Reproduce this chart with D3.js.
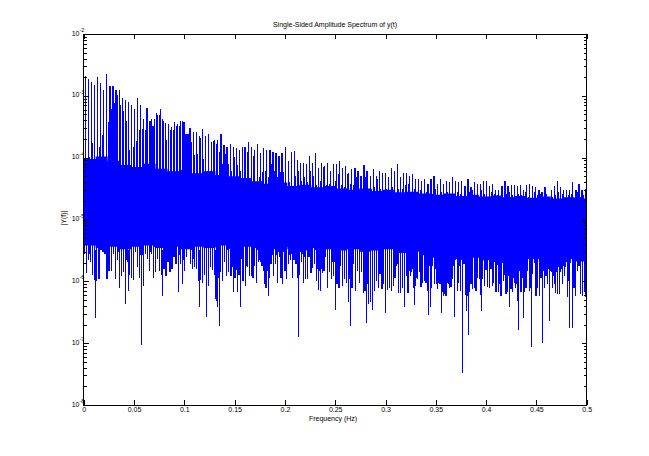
<!DOCTYPE html>
<html><head><meta charset="utf-8">
<script src="https://cdn.jsdelivr.net/npm/d3@7"></script>
<style>html,body{margin:0;background:#fff}svg{display:block}text{font-family:"Liberation Sans",Arial,sans-serif;fill:#000}</style>
</head><body><svg id="c" width="649" height="456"></svg>
<script>
const titleText="Single-Sided Amplitude Spectrum of y(t)", xLabelText="Frequency (Hz)", yLabelText="|Y(f)|";
const xTicks=[0,0.05,0.1,0.15,0.2,0.25,0.3,0.35,0.4,0.45,0.5];
const xTickLabels=["0","0.05","0.1","0.15","0.2","0.25","0.3","0.35","0.4","0.45","0.5"];
const decades=[-2,-3,-4,-5,-6,-7,-8];
// all amplitudes stored as log10(|Y|), three frequency bands
const bandEdges=[0,0.1655,0.3345,0.5];
const peaks=[
[-2.68,-2.73,-2.78,-2.83,-2.70,-2.79,-2.91,-2.65,-2.84,-2.84,-2.91,-2.91,-3.04,-3.07,-3.10,-3.15,-3.22,-3.04,-3.15,-3.38,-3.20,-3.40,-3.49,-3.28,-3.31,-3.38,-3.44,-3.46,-3.50,-3.43,-3.45,-3.41,-3.43,-3.62,-3.52,-3.59,-3.59,-3.65,-3.54,-3.65,-3.62,-3.75,-3.72,-3.72,-3.61,-3.80,-3.83,-3.78,-3.82,-3.85,-3.87,-3.82,-3.82,-3.74],
[-3.83,-3.88,-3.78,-3.93,-3.85,-3.88,-3.88,-3.91,-3.93,-3.98,-3.93,-3.82,-4.06,-3.91,-3.90,-4.04,-4.09,-4.09,-4.11,-3.98,-4.08,-3.93,-4.16,-4.09,-4.14,-4.08,-4.22,-4.11,-4.11,-4.06,-4.16,-4.14,-4.24,-4.19,-4.16,-4.21,-4.29,-4.12,-4.21,-4.29,-4.19,-4.29,-4.21,-4.24,-4.24,-4.32,-4.16,-4.22,-4.11,-4.32,-4.25,-4.24,-4.29,-4.27,-4.34,-4.34],
[-4.38,-4.34,-4.42,-4.34,-4.30,-4.42,-4.34,-4.42,-4.38,-4.40,-4.32,-4.37,-4.40,-4.38,-4.46,-4.34,-4.48,-4.40,-4.42,-4.42,-4.37,-4.38,-4.46,-4.43,-4.53,-4.53,-4.46,-4.37,-4.46,-4.45,-4.45,-4.46,-4.45,-4.53,-4.45,-4.43,-4.46,-4.48,-4.53,-4.55,-4.48,-4.64,-4.53,-4.46,-4.37,-4.48,-4.53,-4.53,-4.53,-4.40,-4.53,-4.42,-4.53,-4.50]];
const gaps=[
[-4.04,-3.99,-3.77,-4.12,-3.82,-3.64,-4.21,-3.42,-3.22,-3.11,-2.99,-3.15,-3.25,-3.41,-3.88,-3.82,-3.73,-3.56,-3.53,-3.55,-4.26,-3.38,-3.38,-3.31,-3.22,-3.40,-3.72,-3.56,-3.55,-3.49,-3.48,-3.41,-3.61,-3.61,-3.75,-3.95,-3.94,-3.69,-4.02,-4.21,-4.21,-3.73,-3.78,-3.91,-4.10,-3.94,-4.10,-4.21,-3.99,-4.12,-4.21,-3.83,-3.91,-4.37],
[-3.98,-4.42,-4.31,-4.23,-4.21,-4.31,-4.10,-4.21,-4.31,-4.23,-4.23,-4.42,-4.40,-4.54,-4.29,-4.21,-4.37,-4.31,-4.40,-4.21,-4.29,-4.45,-4.37,-4.15,-4.45,-4.42,-4.58,-4.37,-4.26,-4.45,-4.48,-4.26,-4.42,-4.45,-4.31,-4.53,-4.61,-4.31,-4.53,-4.50,-4.48,-4.34,-4.50,-4.56,-4.50,-4.61,-4.48,-4.64,-4.50,-4.50,-4.45,-4.42,-4.58,-4.50,-4.56,-4.53],
[-4.61,-4.56,-4.58,-4.58,-4.50,-4.64,-4.56,-4.58,-4.56,-4.61,-4.66,-4.56,-4.58,-4.64,-4.66,-4.56,-4.53,-4.61,-4.64,-4.53,-4.58,-4.66,-4.56,-4.58,-4.61,-4.64,-4.66,-4.58,-4.56,-4.61,-4.66,-4.58,-4.61,-4.56,-4.64,-4.66,-4.56,-4.61,-4.58,-4.66,-4.58,-4.66,-4.64,-4.61,-4.56,-4.58,-4.66,-4.61,-4.58,-4.66,-4.56,-4.64,-4.61,-4.66]];
const dips=[
[-5.56,-5.87,-5.66,-5.69,-5.90,-5.98,-5.99,-5.97,-5.50,-5.53,-5.56,-5.97,-5.83,-5.83,-5.56,-5.96,-5.66,-6.10,-5.91,-5.85,-6.00,-5.68,-5.90,-5.94,-5.98,-5.53,-5.77,-5.95,-5.58,-6.08,-5.56,-5.64,-5.83,-5.56,-5.94,-5.85,-5.64,-5.83,-5.90,-5.80,-5.92,-5.69,-5.85,-5.80,-5.61,-5.72,-5.95,-5.72,-6.05,-5.84,-5.61,-5.39,-5.72,-5.80,-5.77,-5.80,-6.00,-5.98,-6.03,-5.90,-5.56,-6.08,-5.77,-5.82,-5.90,-6.00,-5.95,-5.85,-5.99,-5.69,-5.91,-5.85,-5.91,-5.77,-5.95,-5.82,-5.90,-5.64,-6.00,-6.08,-5.77,-5.91],
[-5.91,-5.94,-5.75,-6.03,-5.69,-5.69,-5.75,-6.04,-6.10,-5.83,-5.95,-5.72,-5.92,-5.72,-6.03,-5.61,-5.94,-6.05,-5.84,-5.97,-5.72,-5.65,-5.94,-5.66,-5.72,-5.95,-5.89,-5.69,-6.03,-5.97,-5.97,-5.60,-5.87,-5.79,-5.72,-5.99,-6.14,-6.16,-5.87,-5.83,-5.61,-6.11,-5.85,-5.97,-5.92,-6.15,-6.05,-6.11,-5.75,-6.07,-5.97,-6.03,-5.98,-6.05,-6.10,-5.72,-6.16,-5.83,-6.03,-5.79,-6.19,-6.15,-6.05,-6.10,-6.00,-6.05,-6.15,-6.00,-6.10,-5.88,-6.12,-6.05,-6.03,-6.14,-6.10,-6.15,-6.07,-5.94,-5.75,-6.19,-6.19,-6.10,-6.05,-5.92,-6.19,-5.83,-5.85,-6.10,-6.07,-5.97,-5.85],
[-6.09,-5.75,-6.00,-6.03,-6.15,-5.66,-6.10,-5.75,-6.05,-5.80,-6.12,-5.62,-5.96,-6.17,-6.21,-6.23,-6.02,-6.10,-6.09,-5.83,-6.20,-5.49,-6.16,-5.76,-5.66,-6.10,-5.64,-6.22,-6.23,-5.72,-6.05,-6.12,-6.10,-6.15,-5.53,-5.65,-6.22,-5.94,-6.07,-5.82,-6.09,-6.10,-5.80,-6.07,-5.46,-6.18,-5.73,-6.04,-6.23,-5.70,-5.90,-6.20,-6.18,-6.15,-6.13,-6.17,-6.03,-6.05,-5.90,-5.70,-6.18,-5.95,-6.17,-6.10,-5.83,-6.16,-6.10,-5.70,-5.70,-6.23,-6.10,-6.24,-5.95,-5.65,-6.10,-5.91,-6.05,-6.17,-5.83,-6.10,-5.91,-6.19,-6.20,-6.21,-5.77,-6.05,-5.92,-5.77,-6.25,-6.10,-5.70,-6.15,-6.10,-6.23,-5.83,-5.75,-6.20,-6.23,-6.17,-6.25]];
// isolated deep notches: frequency and level, read individually
const deepFreqs=[.0116,.0411,.0450,.0573,.0782,.0941,.1150,.1220,.1310,.1320,.1330,.1350,.1488,.1528,.1557,.1835,.2133,.2501,.2631,.2651,.2810,.2830,.2850,.2870,.2998,.3187,.3286,.3425,.3452,.3555,.3684,.3764,.3803,.3823,.3952,.4231,.4320,.4370,.4449,.4558,.4628,.4827,.4857];
const deepLevels=[-6.60,-6.36,-6.16,-7.03,-6.23,-6.18,-6.42,-6.57,-6.29,-6.31,-6.41,-6.72,-6.18,-6.18,-6.42,-6.23,-6.90,-6.46,-6.34,-6.73,-6.68,-6.37,-6.34,-6.46,-6.52,-6.42,-6.39,-6.54,-6.41,-6.52,-6.57,-7.49,-6.48,-6.86,-6.48,-6.41,-6.78,-6.60,-7.07,-7.00,-6.64,-6.76,-6.75];
const floors=[
[-5.07,-5.42,-5.56,-5.29,-5.39,-5.02,-5.31,-5.50,-5.34,-5.26,-5.53,-5.26,-5.56,-5.15,-5.53,-5.34,-5.20,-5.66,-5.18,-5.04,-5.02,-5.02,-5.34,-5.58,-5.58,-5.31,-5.56,-5.53,-5.12,-5.45,-5.48,-5.34,-5.34,-5.48,-5.34,-5.39,-5.37,-5.34,-5.56,-5.58,-5.42,-5.66,-5.37,-5.10,-5.50,-5.64,-5.23,-5.53,-5.15,-5.29,-5.12,-5.29,-5.37,-5.23,-5.45,-5.56,-5.66,-5.69,-5.18,-5.50,-5.48,-5.29,-5.39,-5.53,-5.61,-5.20,-5.42,-5.75,-5.20],
[-5.45,-5.42,-5.39,-5.50,-5.66,-5.75,-5.83,-5.10,-5.37,-5.72,-5.58,-5.31,-5.58,-5.53,-5.56,-5.53,-5.83,-5.34,-5.58,-5.56,-5.53,-5.64,-5.50,-5.53,-5.56,-5.61,-5.39,-5.61,-5.56,-5.69,-5.50,-5.80,-5.83,-5.80,-5.50,-5.58,-5.83,-5.72,-5.69,-5.69,-5.72,-5.31,-5.37,-5.56,-5.64,-5.66,-5.96,-5.75,-5.45,-5.50,-5.66,-5.80,-5.85,-5.42,-5.77,-5.72,-5.64,-5.48,-5.69,-5.48,-5.80,-5.83,-5.83,-5.50,-5.85,-5.69,-5.75,-5.75,-5.77,-5.72,-5.50,-6.04,-6.07,-5.72,-5.88,-5.91,-5.80,-5.80,-5.94,-5.69],
[-5.75,-6.02,-5.83,-5.72,-5.64,-5.75,-5.80,-5.61,-5.94,-6.04,-6.02,-6.04,-6.02,-6.23,-5.83,-5.99,-6.04,-5.50,-5.96,-5.75,-5.66,-5.64,-6.02,-6.15,-6.07,-5.72,-5.96,-5.99,-6.18,-5.75,-5.53,-5.66,-5.80,-5.94,-5.96,-6.07,-5.96,-5.83,-5.72,-5.45,-5.99,-5.72,-6.02,-5.69,-5.88,-6.18,-5.83,-6.04,-5.99,-6.02,-5.96,-5.91,-5.69,-6.12,-5.94,-6.10,-6.31,-5.83,-6.12,-5.69,-5.72,-5.83,-5.69,-5.69,-5.88,-5.88,-5.64,-6.10,-5.91,-5.94,-5.69,-5.83,-5.80,-5.83,-5.80,-5.72,-5.85,-5.91,-6.04,-5.85,-5.77,-5.85,-5.80,-5.75,-5.72,-5.69,-5.99,-5.69,-6.10,-6.10,-5.99,-5.83,-5.75,-6.18,-5.75,-6.02,-6.15]];
// solid body of the spectrum, coarse steps across the whole band
const bodyTops=[-4.02,-3.98,-4.05,-4.12,-4.15,-4.10,-4.18,-4.22,-4.20,-4.25,-4.22,-4.28,-4.30,-4.33,-4.38,-4.42,-4.40,-4.46,-4.44,-4.48,-4.46,-4.50,-4.52,-4.50,-4.54,-4.52,-4.56,-4.55,-4.58,-4.60,-4.58,-4.62,-4.60,-4.63,-4.61,-4.64,-4.62,-4.65,-4.63,-4.66,-4.64,-4.66];
const bodyBottoms=[-5.42,-5.46,-5.44,-5.48,-5.44,-5.42,-5.46,-5.44,-5.48,-5.44,-5.46,-5.42,-5.46,-5.44,-5.46,-5.48,-5.44,-5.48,-5.50,-5.46,-5.48,-5.50,-5.48,-5.52,-5.50,-5.48,-5.54,-5.52,-5.58,-5.62,-5.58,-5.64,-5.62,-5.66,-5.62,-5.68,-5.66,-5.64,-5.68,-5.66,-5.64,-5.68];

const L=83.7,R=586.7,T=34,B=405;
const svg=d3.select("#c");
const x=d3.scaleLinear().domain([0,0.5]).range([L,R]);
const y=d3.scaleLog().domain([1e-8,1e-2]).range([B,T]);
const amp=e=>Math.pow(10,e);
const blue="#0000ff";
const plot=svg.append("g");
const place=(arr,b)=>arr.map((e,i)=>({f:bandEdges[b]+(i+0.5)/arr.length*(bandEdges[b+1]-bandEdges[b]),e}));
const body=bodyTops.map((t,i)=>({f:i/bodyTops.length*0.5,t,b:bodyBottoms[i]}));
body.push({f:0.5,t:bodyTops[bodyTops.length-1],b:bodyBottoms[bodyBottoms.length-1]});
const area=d3.area().x(d=>x(d.f)).y0(d=>y(amp(d.b))).y1(d=>y(amp(d.t))).curve(d3.curveStepAfter);
plot.append("path").datum(body).attr("d",area).attr("fill",blue);
const stems=(data,top,bot,w)=>plot.append("g").selectAll("line").data(data).join("line")
  .attr("x1",d=>x(d.f)).attr("x2",d=>x(d.f)).attr("y1",d=>y(amp(top(d)))).attr("y2",d=>y(amp(bot(d))))
  .attr("stroke",blue).attr("stroke-width",w).attr("shape-rendering","crispEdges");
const allFloors=floors.flatMap((a,b)=>place(a,b));
stems(allFloors,()=>-5.0,d=>d.e,1.2);
const allDips=dips.flatMap((a,b)=>place(a,b));
stems(allDips,()=>-5.0,d=>d.e,1.2);
stems(deepFreqs.map((f,i)=>({f,e:deepLevels[i]})),()=>-5.5,d=>d.e,1);
const allPeaks=peaks.flatMap((a,b)=>place(a,b));
const halfSlot=0.5/allPeaks.length/2;
const allGaps=gaps.flatMap((a,b)=>place(a,b)).map(d=>({f:d.f+halfSlot,e:d.e}));
stems(allGaps,d=>d.e,()=>-4.7,1);
stems(allPeaks,d=>d.e,()=>-4.7,1.2);

// axes
const majors=decades.map(amp);
const minors=[];
decades.slice(1).forEach(d=>{[2,3,4,5,6,7,8,9].forEach(m=>minors.push(m*amp(d)));});
const style=g=>{g.select(".domain").remove();
  g.selectAll("line").attr("stroke","#000").attr("shape-rendering","crispEdges");};
const fmtX=(d,i)=>xTickLabels[i];
svg.append("g").attr("transform",`translate(0,${B})`).call(d3.axisBottom(x).tickValues(xTicks).tickSize(-5).tickSizeOuter(0).tickFormat(fmtX))
  .call(g=>g.selectAll("text").attr("font-size",7).attr("y",2).attr("dy","0.71em")).call(style);
svg.append("g").attr("transform",`translate(0,${T})`).call(d3.axisTop(x).tickValues(xTicks).tickSize(-5).tickSizeOuter(0).tickFormat("")).call(style);
const yAxisFn=(gen,tx,size,vals)=>svg.append("g").attr("transform",`translate(${tx},0)`).call(gen(y).tickValues(vals).tickSize(size).tickSizeOuter(0).tickFormat("")).call(style);
yAxisFn(d3.axisLeft,L,-5,majors); yAxisFn(d3.axisLeft,L,-3,minors);
yAxisFn(d3.axisRight,R,-5,majors); yAxisFn(d3.axisRight,R,-3,minors);
svg.append("rect").attr("x",L).attr("y",T).attr("width",R-L).attr("height",B-T).attr("fill","none").attr("stroke","#000").attr("shape-rendering","crispEdges");

const ylab=svg.append("g").selectAll("text").data(decades).join("text")
  .attr("x",L-12).attr("y",d=>y(amp(d))+1.5).attr("text-anchor","start").attr("font-size",7);
ylab.append("tspan").text("10");
ylab.append("tspan").attr("dy",-3.5).attr("font-size",5.5).text(d=>"-"+Math.abs(d));

svg.append("text").attr("x",335).attr("y",26.5).attr("text-anchor","middle").attr("font-size",7).text(titleText);
svg.append("text").attr("x",333).attr("y",420.5).attr("text-anchor","middle").attr("font-size",7).text(xLabelText);
svg.append("text").attr("transform","translate(65.5,218) rotate(-90)").attr("text-anchor","middle").attr("font-size",7).text(yLabelText);
</script></body></html>
